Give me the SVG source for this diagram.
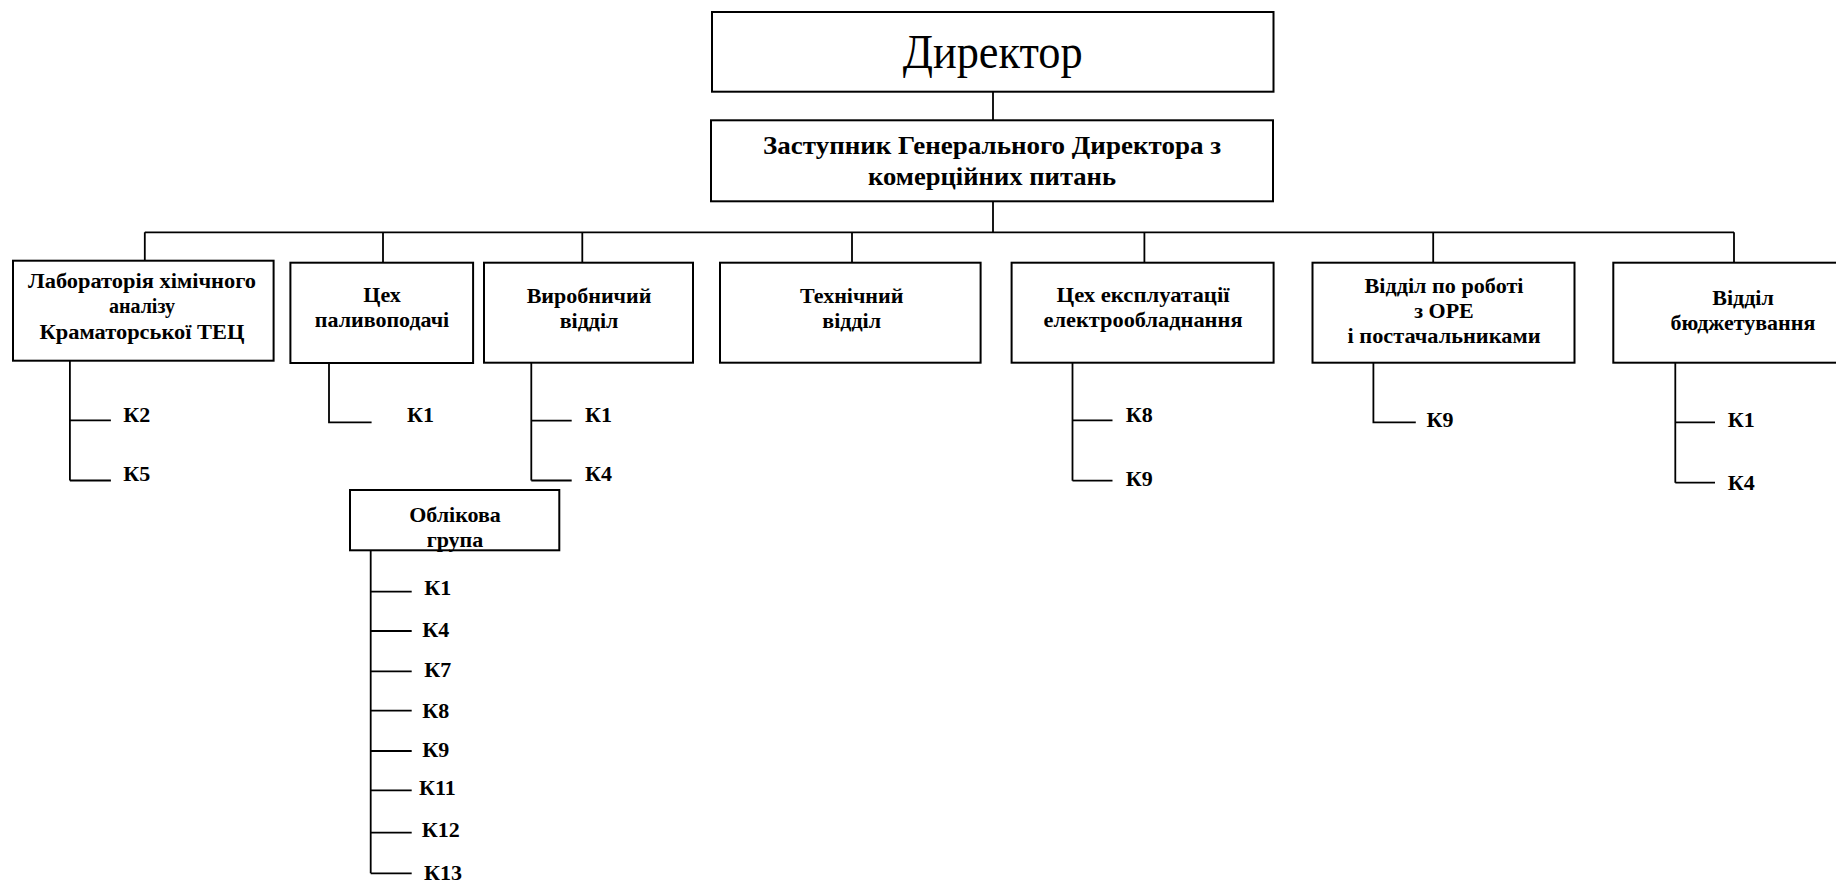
<svg xmlns="http://www.w3.org/2000/svg" width="1836" height="883" viewBox="0 0 1836 883">
<style>
.box{fill:#fff;stroke:#000;stroke-width:2}
.ln{fill:none;stroke:#000;stroke-width:1.8}
.t{font-family:"Liberation Serif","Times New Roman",serif;font-weight:bold;font-size:22px;fill:#000;text-anchor:middle}
.k{font-family:"Liberation Serif","Times New Roman",serif;font-weight:bold;font-size:22px;fill:#000}
</style>
<rect width="1836" height="883" fill="#fff"/>
<g id="connectors">
<path class="ln" d="M993 91.7V120.3M993 201.3V232.3M144.8 232.3H1734M144.8 232.3V260.7M383 232.3V262.7M582.3 232.3V262.7M852 232.3V262.7M1144.4 232.3V262.7M1433.2 232.3V262.7M1734 232.3V262.7"/>
<path class="ln" d="M69.9 360.7V480.5M69.9 420.3H110.9M69.9 480.5H110.9"/>
<path class="ln" d="M329 362.7V422.3H371.6"/>
<path class="ln" d="M531.3 362.7V480.5M531.3 420.7H571.7M531.3 480.5H571.7"/>
<path class="ln" d="M370.7 550.3V873.3M370.7 591.7H411.7M370.7 631H411.7M370.7 671.3H411.7M370.7 710.7H411.7M370.7 751H411.7M370.7 790.3H411.7M370.7 832.7H411.7M370.7 873.3H411.7"/>
<path class="ln" d="M1072.5 362.7V480.7M1072.5 420.3H1112.5M1072.5 480.7H1112.5"/>
<path class="ln" d="M1373.4 362.7V422.3H1415.8"/>
<path class="ln" d="M1675.3 362.7V482.7M1675.3 422.3H1715M1675.3 482.7H1715"/>
</g>
<g id="director">
<rect class="box" x="712" y="12" width="561.5" height="79.7"/>
<text x="992.7" y="68" font-family="'Liberation Serif','Times New Roman',serif" font-size="48" text-anchor="middle" fill="#000" textLength="180" lengthAdjust="spacingAndGlyphs">Директор</text>
</g>
<g id="deputy">
<rect class="box" x="711" y="120.3" width="562" height="81"/>
<text class="t" x="992" y="154" style="font-size:26px" textLength="458" lengthAdjust="spacingAndGlyphs">Заступник Генерального Директора з</text>
<text class="t" x="992" y="185" style="font-size:26px" textLength="248" lengthAdjust="spacingAndGlyphs">комерційних питань</text>
</g>
<g id="lab">
<rect class="box" x="13" y="260.7" width="260.6" height="100"/>
<text class="t" x="142" y="287.7" style="font-size:20px" textLength="228" lengthAdjust="spacingAndGlyphs">Лабораторія хімічного</text>
<text class="t" x="142" y="312.7" style="font-size:20px">аналізу</text>
<text class="t" x="142" y="339.3" style="font-size:20px" textLength="205" lengthAdjust="spacingAndGlyphs">Краматорської ТЕЦ</text>
<text class="k" x="123.3" y="422">К2</text>
<text class="k" x="123.3" y="481">К5</text>
</g>
<g id="fuel">
<rect class="box" x="290.4" y="262.7" width="182.7" height="100.3"/>
<text class="t" x="382" y="301.7">Цех</text>
<text class="t" x="382" y="326.7">паливоподачі</text>
<text class="k" x="407" y="422">К1</text>
</g>
<g id="production">
<rect class="box" x="484" y="262.7" width="209" height="100"/>
<text class="t" x="589" y="303.3">Виробничий</text>
<text class="t" x="589" y="328.3">відділ</text>
<text class="k" x="585" y="422">К1</text>
<text class="k" x="585" y="481">К4</text>
</g>
<g id="accounting">
<rect class="box" x="350" y="490" width="209.3" height="60.3"/>
<text class="t" x="455" y="521.7">Облікова</text>
<text class="t" x="455" y="546.7">група</text>
<text class="k" x="424.3" y="595">К1</text>
<text class="k" x="422.3" y="637.3">К4</text>
<text class="k" x="424.3" y="677.3">К7</text>
<text class="k" x="422.3" y="717.7">К8</text>
<text class="k" x="422.3" y="756.7">К9</text>
<text class="k" x="419" y="795">К11</text>
<text class="k" x="421.7" y="837.3">К12</text>
<text class="k" x="424" y="880">К13</text>
</g>
<g id="technical">
<rect class="box" x="720" y="262.7" width="260.6" height="100"/>
<text class="t" x="851.7" y="303.3">Технічний</text>
<text class="t" x="851.7" y="328.3">відділ</text>
</g>
<g id="electrical">
<rect class="box" x="1011.6" y="262.7" width="262" height="100"/>
<text class="t" x="1143" y="301.7" textLength="173" lengthAdjust="spacingAndGlyphs">Цех експлуатації</text>
<text class="t" x="1143" y="326.7" textLength="199" lengthAdjust="spacingAndGlyphs">електрообладнання</text>
<text class="k" x="1125.7" y="422">К8</text>
<text class="k" x="1125.7" y="486">К9</text>
</g>
<g id="wholesale">
<rect class="box" x="1312.5" y="262.7" width="262" height="100"/>
<text class="t" x="1444" y="293.3" textLength="159" lengthAdjust="spacingAndGlyphs">Відділ по роботі</text>
<text class="t" x="1444" y="318.3">з ОРЕ</text>
<text class="t" x="1444" y="343.3" textLength="193" lengthAdjust="spacingAndGlyphs">і постачальниками</text>
<text class="k" x="1426.6" y="426.7">К9</text>
</g>
<g id="budget">
<rect class="box" x="1613.3" y="262.7" width="240" height="100"/>
<text class="t" x="1743" y="305">Відділ</text>
<text class="t" x="1743" y="330">бюджетування</text>
<text class="k" x="1727.7" y="426.7">К1</text>
<text class="k" x="1727.7" y="490">К4</text>
</g>
</svg>
